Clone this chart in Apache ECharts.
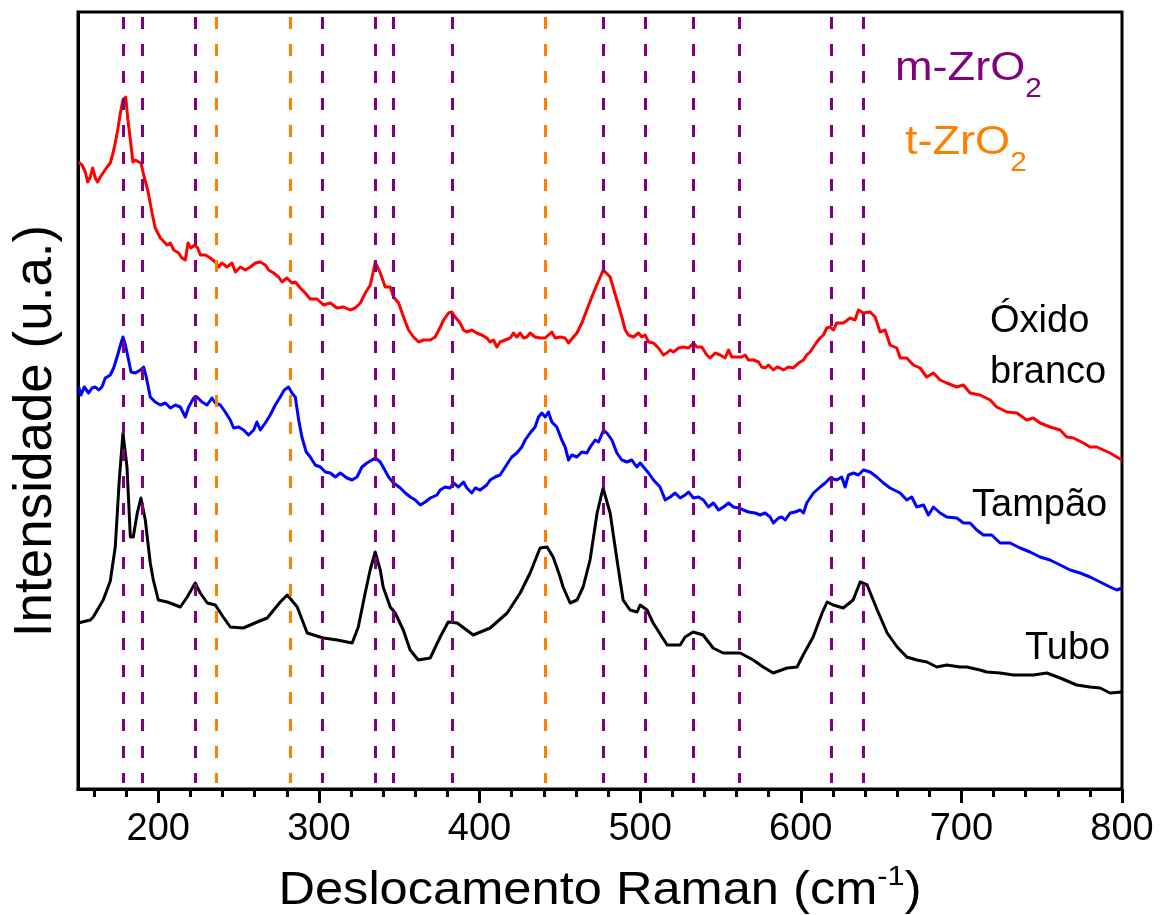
<!DOCTYPE html>
<html>
<head>
<meta charset="utf-8">
<script src="https://cdn.jsdelivr.net/npm/echarts@6/dist/echarts.min.js"></script>
<style>
  html, body { margin: 0; padding: 0; background: #ffffff; }
  #chart { width: 1166px; height: 915px; }
</style>
</head>
<body>
<div id="chart"></div>
<script>
// Raman spectra of ZrO2 samples: [wavenumber (cm-1), intensity (a.u., offset)]
const tubo = [[150,166],[157.7,169],[159.5,172],[165.7,189],[170.1,208],[173.2,242],[175.7,309],[178.0,356],[180.5,322],[182.6,252],[184.4,252],[186.9,276],[189.2,291],[191.9,269],[195.0,226],[196.9,209],[200.0,189],[205.6,187],[213.7,182],[218.0,192],[223.0,206],[226.1,196],[230.5,186],[235.5,184],[240.4,172],[244.8,162],[252.9,161],[261.6,167],[267.8,171],[275.9,187],[280.3,194],[286.5,182],[292.7,156],[302.7,151],[311.4,149],[320.7,146],[324.5,162],[328.8,196],[331.9,219],[335.0,237],[338.2,219],[340.0,202],[344.4,182],[347.5,176],[352.5,159],[356.8,139],[361.8,129],[369.3,131],[375.5,152],[380.5,167],[386.1,166],[396.1,154],[406.6,161],[417.2,176],[425.3,196],[431.5,216],[437.7,241],[442.1,242],[445.8,232],[450.2,212],[452.0,202],[456.4,186],[460.7,189],[464.5,202],[468.8,229],[473.2,276],[476.9,301],[481.3,276],[485.6,229],[489.4,189],[493.7,179],[498.1,177],[500.0,184],[504.3,179],[508.1,166],[516.8,144],[524.9,144],[528.0,152],[533.0,157],[539.2,154],[545.4,141],[551.7,136],[562.3,136],[570.4,129],[576.6,122],[582.8,116],[591.5,121],[597.7,122],[601.5,134],[607.7,152],[613.3,176],[616.4,187],[620.2,184],[626.4,181],[632.6,189],[637.0,207],[641.3,204],[647.6,179],[653.8,156],[660.0,142],[666.0,132],[672.2,129],[678.5,127],[684.7,122],[690.9,124],[699.2,122],[703.4,122],[711.6,119],[715.8,117],[724.1,116],[732.4,114],[744.8,114],[753.2,116],[761.5,111],[771.8,104],[780.1,102],[786.4,101],[792.6,96],[800,97]];

const tampao = [[150.4,402],[151.9,394],[153.9,402],[156.6,396],[158.7,401],[160.8,402],[162.9,399],[164.9,402],[167.0,411],[170.1,414],[172.2,421],[174.7,434],[176.8,446],[178.0,452],[179.5,444],[181.5,429],[183.0,417],[185.7,416],[188.8,419],[190.9,422],[192.5,412],[195.0,392],[198.1,387],[201.3,384],[204.4,386],[207.5,381],[210.6,384],[213.7,382],[216.8,372],[218.9,382],[222.0,391],[224.1,392],[227.2,387],[230.3,384],[233.4,391],[235.5,386],[238.6,384],[241.7,377],[244.8,369],[246.9,361],[250.0,362],[253.1,359],[256.2,354],[259.4,359],[261.4,367],[263.5,359],[266.6,366],[269.7,374],[272.8,384],[275.9,392],[278.4,399],[281.1,402],[283.2,396],[285.3,392],[287.4,369],[289.4,352],[292.1,337],[294.6,332],[297.7,324],[300.9,322],[304.0,317],[307.1,316],[310.2,312],[313.3,316],[317.5,311],[320.6,309],[323.7,312],[326.8,322],[329.9,326],[333.0,329],[335.1,331],[338.2,327],[340.3,321],[343.4,312],[346.5,306],[350.7,301],[353.8,296],[356.9,292],[360.0,289],[363.1,284],[366.2,287],[369.3,291],[373.5,294],[375.5,299],[378.6,302],[381.7,301],[383.8,306],[386.9,302],[390.0,307],[392.1,301],[395.2,296],[397.3,301],[400.4,299],[404.5,304],[406.6,309],[409.7,312],[412.8,314],[416.0,322],[418.0,327],[420.1,332],[423.2,336],[426.3,342],[428.4,349],[431.5,356],[434.6,362],[436.7,372],[438.8,376],[440.9,372],[442.9,377],[445.0,367],[448.1,362],[451.2,349],[453.3,342],[455.4,329],[457.5,334],[460.6,332],[463.7,337],[466.8,336],[468.9,342],[472.0,349],[474.1,347],[477.2,359],[479.3,356],[482.4,349],[485.5,336],[488.6,329],[491.7,327],[494.8,329],[497.9,322],[500.0,326],[502.1,322],[505.2,316],[508.3,309],[512.4,302],[515.6,289],[518.7,292],[521.8,296],[524.9,291],[528.0,294],[530.1,297],[533.2,291],[536.3,292],[539.4,289],[542.5,282],[545.6,286],[548.8,279],[551.9,282],[555.0,286],[558.1,282],[561.2,281],[564.3,279],[567.4,277],[571.6,276],[574.7,274],[577.8,276],[580.9,272],[583.0,266],[586.1,271],[588.2,272],[590.3,269],[593.4,276],[596.5,277],[599.6,279],[601.7,276],[603.7,286],[607.9,296],[612.1,302],[615.2,306],[618.3,311],[622.4,309],[625.5,312],[627.6,302],[629.7,314],[632.8,316],[635.9,314],[639.0,319],[643.2,317],[647.3,312],[651.5,306],[655.6,301],[661.9,296],[666.0,289],[669.1,292],[672.2,282],[676.4,284],[679.5,274],[682.6,282],[686.8,276],[690.9,272],[697.1,271],[701.3,266],[705.4,266],[709.6,259],[713.7,254],[718.9,254],[724.1,246],[730.3,246],[736.6,241],[742.8,237],[749.0,232],[755.2,229],[761.5,224],[767.7,219],[773.9,216],[780.1,212],[786.4,207],[792.6,202],[796.7,199],[800,201]];

const oxidoBranco = [[150.4,627],[152.5,624],[154.6,617],[156.0,607],[157.7,612],[159.1,621],[160.8,611],[162.2,607],[163.9,612],[165.6,616],[168.1,622],[170.1,626],[171.8,636],[173.2,646],[174.7,659],[176.4,676],[178.0,689],[179.7,692],[181.1,669],[182.6,649],[184.2,627],[185.7,629],[187.8,627],[189.2,626],[190.9,614],[193.4,599],[196.1,576],[198.1,561],[201.3,551],[203.7,547],[205.4,544],[207.5,546],[209.6,539],[212.7,536],[214.7,531],[216.8,529],[218.5,546],[220.3,541],[222.6,544],[224.5,541],[226.2,534],[229.3,534],[232.4,531],[235.5,527],[237.6,522],[239.6,526],[242.8,522],[245.9,526],[248.0,517],[251.1,522],[254.2,519],[257.3,522],[260.4,526],[263.5,527],[266.6,524],[268.7,519],[271.8,516],[274.9,512],[277.0,507],[280.1,511],[283.2,506],[285.3,507],[288.4,501],[291.5,496],[294.6,490],[298.8,490],[302.9,484],[307.1,486],[311.2,481],[315.4,482],[319.5,479],[322.6,481],[325.8,486],[328.9,496],[332.0,504],[335.1,527],[338.2,516],[341.3,502],[344.4,502],[346.5,492],[349.6,486],[352.7,472],[355.8,459],[358.9,452],[362.1,447],[365.2,449],[369.3,449],[372.4,452],[375.6,462],[377.6,469],[380.7,476],[382.8,477],[384.8,472],[387.9,466],[390.0,459],[392.1,457],[395.2,459],[398.3,456],[401.4,454],[404.5,451],[406.6,447],[408.7,449],[410.8,442],[412.8,447],[416.0,449],[419.1,451],[421.1,456],[423.2,452],[425.3,456],[427.4,451],[429.5,452],[431.5,456],[434.6,452],[437.7,451],[440.9,451],[442.9,454],[445.0,457],[447.1,451],[450.2,452],[453.3,451],[455.4,446],[458.5,452],[460.6,456],[463.7,466],[466.8,479],[469.9,492],[473.0,504],[477.0,519],[481.3,512],[485.5,489],[488.6,472],[490.7,459],[492.7,454],[495.8,452],[499.0,456],[501.0,452],[503.1,454],[505.2,447],[508.3,446],[511.4,441],[514.5,434],[516.6,436],[518.7,439],[520.7,437],[523.9,441],[527.0,442],[530.1,441],[533.2,446],[535.3,442],[538.4,442],[541.5,434],[543.6,431],[546.7,436],[549.8,434],[552.9,431],[555.0,439],[557.1,432],[560.2,432],[563.3,432],[565.4,434],[567.4,429],[570.5,429],[573.7,427],[575.7,422],[577.8,421],[579.9,424],[583.0,419],[585.1,422],[587.1,421],[589.2,419],[592.3,422],[595.4,421],[598.6,426],[601.7,429],[603.7,434],[605.8,437],[607.9,442],[610.0,447],[612.0,451],[614.1,454],[616.2,461],[618.3,462],[620.3,459],[622.4,466],[626.6,466],[630.7,471],[633.8,469],[635.9,479],[639.0,476],[643.2,477],[646.3,472],[649.4,457],[652.5,459],[655.6,444],[659.8,441],[661.9,431],[666.0,431],[670.1,424],[674.3,421],[678.4,412],[682.6,416],[686.8,409],[690.9,406],[697.1,402],[701.3,404],[705.4,396],[711.6,394],[717.9,389],[722.0,382],[728.3,377],[734.5,376],[740.7,369],[744.8,371],[749.0,366],[755.2,362],[761.5,359],[765.6,352],[769.8,351],[776.0,346],[780.1,342],[784.3,342],[788.4,339],[792.6,336],[796.7,332],[800,329]];

// Reference band positions (cm-1)
const mZrO2Bands = [178, 190, 223, 302, 335, 346, 383, 477, 503, 533, 562, 619, 639];
const tZrO2Bands = [236, 282, 441];

// Axis ticks
const majorTicks = [200, 300, 400, 500, 600, 700, 800];
const minorTicks = [160, 180, 220, 240, 260, 280, 320, 340, 360, 380, 420, 440, 460, 480, 520, 540, 560, 580, 620, 640, 660, 680, 720, 740, 760, 780];

const FONT = "'Liberation Sans', Arial, sans-serif";
const PURPLE = '#800080';
const ORANGE = '#FF8000';
const Y_MIN = 0, Y_MAX = 777;
const DASH_TOP = 772, DASH_BOTTOM = 6;

function bandLines(bands) {
  return bands.map(b => [{ coord: [b, DASH_TOP] }, { coord: [b, DASH_BOTTOM] }]);
}

function spectrum(name, data, color) {
  return {
    name, type: 'line', data, showSymbol: false, symbol: 'none',
    xAxisIndex: 0, yAxisIndex: 0, silent: true, animation: false,
    lineStyle: { color, width: 3, join: 'round' }
  };
}

function bandSeries(name, bands, color) {
  return {
    name, type: 'line', data: [], xAxisIndex: 0, yAxisIndex: 0, silent: true, animation: false, z: 5,
    markLine: {
      silent: true, animation: false, symbol: ['none', 'none'],
      label: { show: false },
      lineStyle: { color, width: 3, type: [12, 15] },
      data: bandLines(bands)
    }
  };
}

function phaseLabel(name, color, x, y) {
  return {
    type: 'text', x, y, scaleX: 1.1, silent: true, z: 10,
    style: {
      text: '{a|' + name + '}{s|2}', verticalAlign: 'middle', align: 'left',
      rich: {
        a: { fontSize: 41, lineHeight: 68, fontFamily: FONT, fill: color, verticalAlign: 'middle' },
        s: { fontSize: 27, lineHeight: 27, fontFamily: FONT, fill: color, verticalAlign: 'bottom' }
      }
    }
  };
}

function sampleLabel(text, x, y) {
  return {
    type: 'text', x, y, silent: true, z: 10,
    style: { text, fontSize: 38, fontFamily: FONT, fill: '#000', verticalAlign: 'middle', align: 'left' }
  };
}

const chart = echarts.init(document.getElementById('chart'), null, { renderer: 'canvas' });

chart.setOption({
  backgroundColor: '#ffffff',
  animation: false,
  grid: {
    left: 78, right: 44, top: 12, bottom: 126,
    show: true, borderColor: '#000', borderWidth: 3, backgroundColor: 'transparent'
  },
  xAxis: [{
    type: 'value', min: 150, max: 800, position: 'bottom',
    axisLine: { show: true, onZero: false, lineStyle: { color: '#000', width: 3 } },
    axisTick: { show: true, customValues: majorTicks, length: 14, lineStyle: { color: '#000', width: 3 } },
    axisLabel: { customValues: majorTicks, fontSize: 38, color: '#000', margin: 22, fontFamily: FONT },
    splitLine: { show: false }
  }, {
    type: 'value', min: 150, max: 800, position: 'bottom',
    axisLine: { show: false, onZero: false },
    axisTick: { show: true, customValues: minorTicks, length: 8, lineStyle: { color: '#000', width: 3 } },
    axisLabel: { show: false },
    splitLine: { show: false }
  }],
  yAxis: {
    type: 'value', min: Y_MIN, max: Y_MAX,
    axisLine: { show: true, lineStyle: { color: '#000', width: 3 } },
    axisTick: { show: false }, axisLabel: { show: false }, splitLine: { show: false }
  },
  series: [
    spectrum('Óxido branco', oxidoBranco, '#FF0000'),
    spectrum('Tampão', tampao, '#0000FF'),
    spectrum('Tubo', tubo, '#000000'),
    bandSeries('m-ZrO2', mZrO2Bands, PURPLE),
    bandSeries('t-ZrO2', tZrO2Bands, ORANGE)
  ],
  graphic: [
    phaseLabel('m-ZrO', PURPLE, 895, 69),
    phaseLabel('t-ZrO', ORANGE, 905, 143),
    sampleLabel('Óxido', 990, 322),
    sampleLabel('branco', 990, 373),
    sampleLabel('Tampão', 972, 506),
    sampleLabel('Tubo', 1025, 649),
    {
      type: 'text', x: 600, y: 891, scaleX: 1.1, silent: true, z: 10,
      style: {
        text: '{a|Deslocamento Raman (cm}{p|-1}{a|)}', align: 'center', verticalAlign: 'middle',
        rich: {
          a: { fontSize: 46, lineHeight: 56, fontFamily: FONT, fill: '#000', verticalAlign: 'middle' },
          p: { fontSize: 28, lineHeight: 28, fontFamily: FONT, fill: '#000', verticalAlign: 'top' }
        }
      }
    },
    {
      type: 'text', x: 36, y: 431, rotation: Math.PI / 2, silent: true, z: 10,
      style: { text: 'Intensidade (u.a.)', fontSize: 53, fontFamily: FONT, fill: '#000', align: 'center', verticalAlign: 'middle' }
    }
  ]
});
</script>
</body>
</html>
